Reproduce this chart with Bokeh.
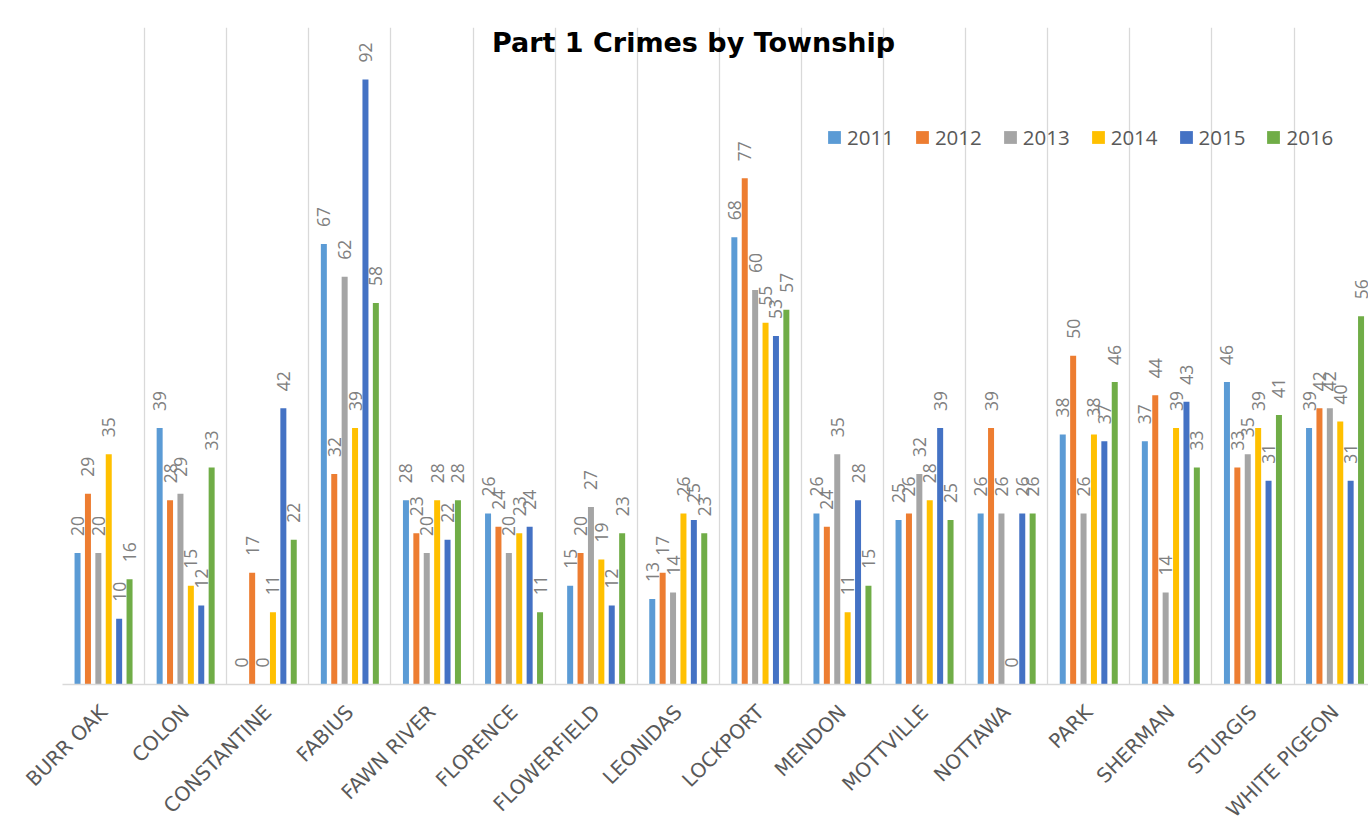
import math
from bokeh.plotting import figure
from bokeh.models import Range1d, FixedTicker, Legend, LegendItem, Label, ColumnDataSource
from bokeh.core.properties import value
from bokeh.embed import file_html
from bokeh.resources import INLINE

towns = ["BURR OAK", "COLON", "CONSTANTINE", "FABIUS", "FAWN RIVER", "FLORENCE",
         "FLOWERFIELD", "LEONIDAS", "LOCKPORT", "MENDON", "MOTTVILLE", "NOTTAWA",
         "PARK", "SHERMAN", "STURGIS", "WHITE PIGEON"]
years = ["2011", "2012", "2013", "2014", "2015", "2016"]
v2011 = [20, 39, 0, 67, 28, 26, 15, 13, 68, 26, 25, 26, 38, 37, 46, 39]
v2012 = [29, 28, 17, 32, 23, 24, 20, 17, 77, 24, 26, 39, 50, 44, 33, 42]
v2013 = [20, 29, 0, 62, 20, 20, 27, 14, 60, 35, 32, 26, 26, 14, 35, 42]
v2014 = [35, 15, 11, 39, 28, 23, 19, 26, 55, 11, 28, 0, 38, 39, 39, 40]
v2015 = [10, 12, 42, 92, 22, 24, 12, 25, 53, 28, 39, 26, 37, 43, 31, 31]
v2016 = [16, 33, 22, 58, 28, 11, 23, 23, 57, 15, 25, 26, 46, 33, 41, 56]
series = [v2011, v2012, v2013, v2014, v2015, v2016]
colors = ["#5B9BD5", "#ED7D31", "#A5A5A5", "#FFC000", "#4472C4", "#70AD47"]

CAT_PX = 82.1
UNIT_PX = 6.576
W, H = 1368, 837
LEFT, TOP, BOTTOM = 62, 27, 153
p = figure(width=W, height=H,
           x_range=Range1d(0, (W - LEFT) / CAT_PX),
           y_range=Range1d(0, (H - TOP - BOTTOM) / UNIT_PX),
           output_backend="svg", toolbar_location=None,
           min_border_left=LEFT, min_border_right=0, min_border_top=TOP, min_border_bottom=BOTTOM)
p.outline_line_color = None
p.background_fill_color = "white"
p.border_fill_color = "white"
p.yaxis.visible = False
p.ygrid.visible = False
p.xgrid.ticker = FixedTicker(ticks=list(range(0, len(towns) + 1)))
p.xgrid.grid_line_color = "#d9d9d9"
p.xgrid.grid_line_width = 1.3

p.xaxis.ticker = FixedTicker(ticks=[i + 0.5 for i in range(len(towns))])
p.xaxis.major_label_overrides = {i + 0.5: t for i, t in enumerate(towns)}
p.xaxis.major_label_orientation = math.pi / 4
p.xaxis.major_tick_line_color = None
p.xaxis.minor_tick_line_color = None
p.xaxis.major_tick_out = 0
p.xaxis.major_tick_in = 0
p.xaxis.major_label_standoff = 24
p.xaxis.axis_line_color = "#d9d9d9"
p.xaxis.axis_line_width = 1.5
p.xaxis.major_label_text_font = "DejaVu Sans"
p.xaxis.major_label_text_font_size = "20px"
p.xaxis.major_label_text_color = "#595959"

pitch = 10.4 / CAT_PX
bar_w = 6.0 / CAT_PX
items = []
for j, (yr, vals, col) in enumerate(zip(years, series, colors)):
    xs = [i + 0.5 + (j - 2.5) * pitch for i in range(len(towns))]
    src = ColumnDataSource(dict(x=xs, top=vals, label=[str(v) for v in vals]))
    r = p.vbar(x="x", top="top", bottom=0, width=bar_w, source=src,
               fill_color=col, line_color=None)
    p.text(x="x", y="top", text="label", source=src, angle=math.pi / 2,
           text_align="left", text_baseline="middle", y_offset=-17,
           text_font=value("Open Sans"), text_font_size="17.5px", text_color="#808080")
    items.append(LegendItem(label=yr, renderers=[r]))

legend = Legend(items=items, orientation="horizontal", location=(764, 533),
                glyph_width=16, glyph_height=16, label_standoff=5, spacing=20,
                padding=0, margin=0, border_line_color=None, background_fill_alpha=0,
                label_text_font="Open Sans", label_text_font_size="20.5px",
                label_text_color="#595959")
p.add_layout(legend)

title = Label(x=631 / CAT_PX, y=642 / UNIT_PX, text="Part 1 Crimes by Township",
              text_align="center", text_baseline="middle",
              text_font="DejaVu Sans", text_font_style="bold", text_font_size="27px",
              text_color="black")
p.add_layout(title)

open("out.html", "w").write(file_html(p, INLINE))
